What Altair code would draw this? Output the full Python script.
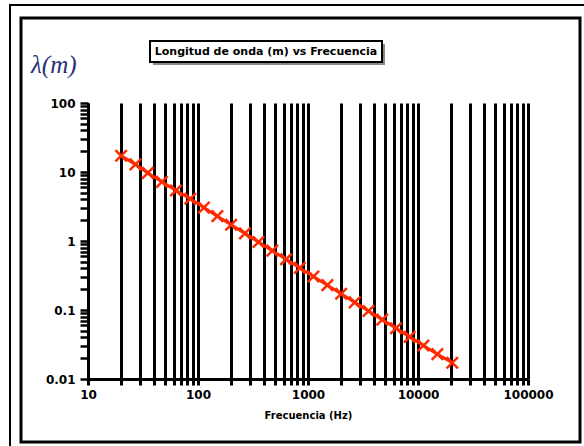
import altair as alt
import pandas as pd

# Data
freq_hz = [20, 27, 35, 47, 63, 85, 113, 150, 200, 267, 355, 474, 632, 843,
           1120, 1500, 2000, 2660, 3550, 4730, 6310, 8410, 11200, 15000, 20500]
wavelength_m = [17.2, 12.9, 9.7, 7.2, 5.4, 4.1, 3.05, 2.29, 1.72, 1.29, 0.966,
                0.724, 0.543, 0.407, 0.306, 0.229, 0.172, 0.129, 0.0967, 0.0725,
                0.0544, 0.0408, 0.0306, 0.0229, 0.0172]

x_tick_values = [10, 20, 30, 40, 50, 60, 70, 80, 90,
                 100, 200, 300, 400, 500, 600, 700, 800, 900,
                 1000, 2000, 3000, 4000, 5000, 6000, 7000, 8000, 9000,
                 10000, 20000, 30000, 40000, 50000, 60000, 70000, 80000, 90000,
                 100000]
y_tick_values = [0.01, 0.02, 0.03, 0.04, 0.05, 0.06, 0.07, 0.08, 0.09,
                 0.1, 0.2, 0.3, 0.4, 0.5, 0.6, 0.7, 0.8, 0.9,
                 1, 2, 3, 4, 5, 6, 7, 8, 9,
                 10, 20, 30, 40, 50, 60, 70, 80, 90, 100]

title_text = "Longitud de onda (m) vs Frecuencia"
y_title = "λ(m)"
x_title = "Frecuencia (Hz)"

df = pd.DataFrame({"f": freq_hz, "lam": wavelength_m})
one = pd.DataFrame({"a": [0]})

RED = "#ff2a00"
W, H = 440, 276

xlab_expr = ("datum.value == 10 ? '10' : datum.value == 100 ? '100' : "
             "datum.value == 1000 ? '1000' : datum.value == 10000 ? '10000' : "
             "datum.value == 100000 ? '100000' : ''")
ylab_expr = ("datum.value == 0.01 ? '0.01' : datum.value == 0.1 ? '0.1' : "
             "datum.value == 1 ? '1' : datum.value == 10 ? '10' : "
             "datum.value == 100 ? '100' : ''")

x_enc = alt.X("f:Q",
              scale=alt.Scale(type="log", domain=[10, 100000], nice=False),
              axis=alt.Axis(values=x_tick_values, labelExpr=xlab_expr,
                            grid=True, gridColor="black", gridWidth=3, gridOpacity=1,
                            ticks=True, tickColor="black", tickWidth=3, tickSize=6,
                            domain=True, domainColor="black", domainWidth=3,
                            labelFont="DejaVu Sans", labelFontWeight="bold",
                            labelFontSize=12, labelColor="black", labelPadding=4,
                            labelOverlap=False, labelFlush=False,
                            title=x_title, titleFont="DejaVu Sans",
                            titleFontWeight="bold", titleFontSize=10,
                            titleColor="black", titleY=36, titleBaseline="middle"))
y_enc = alt.Y("lam:Q",
              scale=alt.Scale(type="log", domain=[0.01, 100], nice=False),
              axis=alt.Axis(values=y_tick_values, labelExpr=ylab_expr,
                            grid=False,
                            ticks=True, tickColor="black", tickWidth=2.5, tickSize=8,
                            domain=True, domainColor="black", domainWidth=3,
                            labelFont="DejaVu Sans", labelFontWeight="bold",
                            labelFontSize=12, labelColor="black", labelPadding=5,
                            labelOverlap=False, labelFlush=False, title=None))

line = alt.Chart(df).mark_line(color=RED, strokeWidth=3).encode(x=x_enc, y=y_enc)
pts = alt.Chart(df).mark_point(shape="M-1,-1L1,1M-1,1L1,-1", filled=False,
                               color=RED, strokeWidth=2.5, size=130,
                               opacity=1).encode(x="f:Q", y="lam:Q")

# Frames around the figure
outer = alt.Chart(one).mark_rect(fill=None, stroke="black", strokeWidth=2).encode(
    x=alt.value(-78), x2=alt.value(520), y=alt.value(-98), y2=alt.value(360))
inner = alt.Chart(one).mark_rect(fill=None, stroke="black", strokeWidth=3).encode(
    x=alt.value(-67), x2=alt.value(492), y=alt.value(-85), y2=alt.value(339))

# Title box with shadow
shadow = alt.Chart(one).mark_rect(fill="#888888", stroke=None).encode(
    x=alt.value(65), x2=alt.value(297), y=alt.value(-59), y2=alt.value(-38))
tbox = alt.Chart(one).mark_rect(fill="white", stroke="black", strokeWidth=2).encode(
    x=alt.value(62), x2=alt.value(294), y=alt.value(-62), y2=alt.value(-41))
ttext = alt.Chart(one).mark_text(font="DejaVu Sans", fontWeight="bold", fontSize=11,
                                 color="black", align="center", baseline="middle").encode(
    x=alt.value(178), y=alt.value(-51), text=alt.value(title_text))

ytitle = alt.Chart(one).mark_text(font="Liberation Serif", fontStyle="italic",
                                  fontSize=25, color="#2a2f78", align="left",
                                  baseline="alphabetic").encode(
    x=alt.value(-57), y=alt.value(-30), text=alt.value(y_title))

chart = alt.layer(line, pts, outer, inner, shadow, tbox, ttext, ytitle).properties(
    width=W, height=H,
    autosize=alt.AutoSizeParams(type="none"),
    padding={"left": 88, "top": 103, "right": 56, "bottom": 67},
    background="white",
).configure_view(stroke=None)

chart.save("out.html", embed_options={"renderer": "svg", "actions": False})
